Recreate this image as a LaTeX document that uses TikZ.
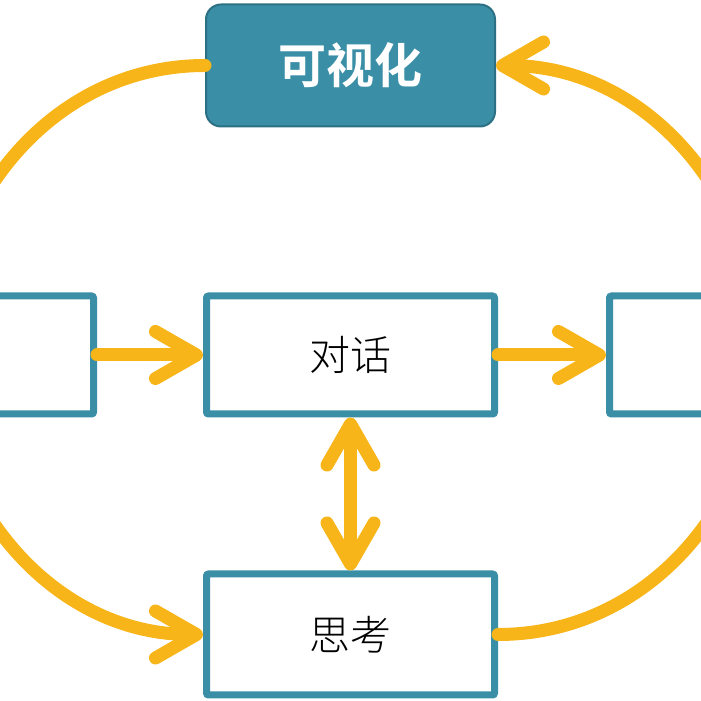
\documentclass[tikz,border=0pt]{standalone}
\usepackage{fontspec}
\newfontfamily\cjk{Noto Sans CJK SC}[UprightFont=* Light, BoldFont=* Bold]
\usetikzlibrary{positioning,arrows.meta}
\definecolor{boxteal}{RGB}{58,143,167}
\definecolor{boxdark}{RGB}{44,112,132}
\definecolor{flowgold}{RGB}{247,181,25}
\tikzset{
  box/.style={draw=boxteal, line width=7pt, fill=white, minimum width=288pt,
    minimum height=118pt, rounded corners=2pt, font=\cjk\fontsize{41}{41}\selectfont},
  topbox/.style={draw=boxdark, line width=2pt, fill=boxteal, rounded corners=15pt,
    minimum width=289pt, minimum height=122pt, text=white,
    font=\cjk\bfseries\fontsize{48}{48}\selectfont},
  flow/.style={draw=flowgold, line width=13pt, line cap=round},
  tip/.style={-{Straight Barb[length=41pt,width=47pt,round]}},
  twotip/.style={{Straight Barb[length=41pt,width=47pt,round]}-{Straight Barb[length=41pt,width=47pt,round]}},
}
\begin{document}
\begin{tikzpicture}[x=1pt,y=1pt]
    \useasboundingbox (0,0) rectangle (701,701);
    \clip (0,0) rectangle (701,701);
    \node [box] (dia) at (350.5,346) {对话};
    \node [box, below=153pt of dia, minimum height=121pt] (thk) {思考};
    \node [topbox, above=165pt of dia] (vis) {可视化};
    \node [box, left=106pt of dia] (lft) {};
    \node [box, right=108pt of dia] (rgt) {};
    \coordinate (tl) at (-60,340);
    \coordinate (bl) at (-60,352);
    \coordinate (tr) at (761,345);
    \coordinate (br) at (761,352);
    \draw [flow] (vis.west) to[out=180,in=90] (tl);
    \draw [flow,tip] (bl) to[out=-90,in=180] (thk.west);
    \draw [flow,tip] (tr) to[out=90,in=0] (vis.east);
    \draw [flow] (thk.east) to[out=0,in=-90] (br);
    \draw [flow,tip] (lft.east) -- (dia.west);
    \draw [flow,tip] (dia.east) -- (rgt.west);
    \draw [flow,twotip] (dia.south) -- (thk.north);
\end{tikzpicture}
\end{document}
